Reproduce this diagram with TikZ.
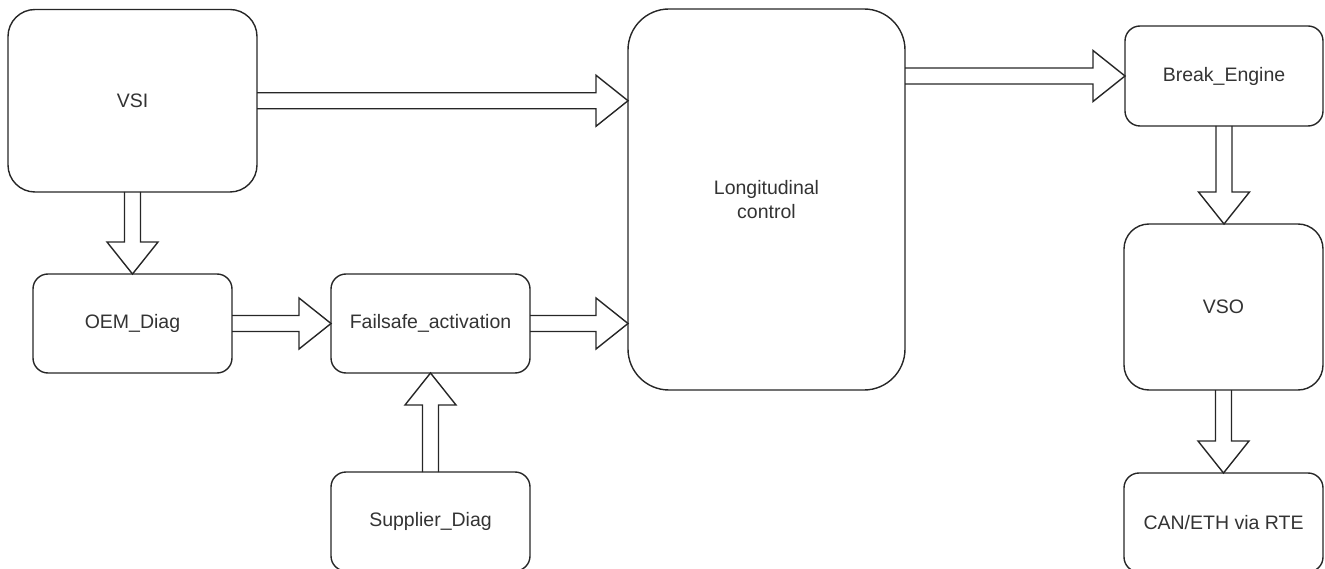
\documentclass[tikz,border=0pt]{standalone}
\usepackage{fontspec}
\setmainfont{Liberation Sans}
\usetikzlibrary{calc}
\tikzset{
  box/.style={draw=black!85, line width=1.4pt, rectangle, outer sep=0pt, inner sep=0pt,
    text=black!80, align=center, font=\fontsize{19.5}{24}\selectfont},
  flex/.style={draw=black!85, line width=1.4pt, line join=miter},
}
\newcommand\flexarrow[2]{%
  \coordinate (faA) at #1;
  \coordinate (faB) at #2;
  \coordinate (faH) at ($(faB)!32pt!(faA)$);
  \draw[flex] ($(faA)!8pt!90:(faB)$) -- ($(faH)!8pt!90:(faB)$) -- ($(faH)!25.5pt!90:(faB)$)
    -- (faB) -- ($(faH)!25.5pt!-90:(faB)$) -- ($(faH)!8pt!-90:(faB)$) -- ($(faA)!8pt!-90:(faB)$);
}
\begin{document}
\begin{tikzpicture}[x=1pt,y=-1pt]
\useasboundingbox (0,0) rectangle (1325,569);
\node[box, minimum width=249pt, minimum height=182.5pt, rounded corners=27pt] (vsi) at (132.5,100.75) {VSI};
\node[box, minimum width=199pt, minimum height=99pt, rounded corners=15pt] (oem) at (132.5,323.5) {OEM\_Diag};
\node[box, minimum width=199pt, minimum height=99pt, rounded corners=15pt] (fs) at (430.5,323.5) {Failsafe\_activation};
\node[box, minimum width=199pt, minimum height=99pt, rounded corners=15pt] (sup) at (430.5,521.5) {Supplier\_Diag};
\node[box, minimum width=277pt, minimum height=381pt, rounded corners=41pt] (long) at (766.5,199.5) {Longitudinal\\control};
\node[box, minimum width=198pt, minimum height=100pt, rounded corners=15pt] (brk) at (1224,76) {Break\_Engine};
\node[box, minimum width=199pt, minimum height=166pt, rounded corners=25pt] (vso) at (1223.5,307) {VSO};
\node[box, minimum width=199pt, minimum height=99pt, rounded corners=15pt] (can) at (1223.5,522.5) {CAN/ETH via RTE};

\flexarrow{(vsi.east)}{(vsi.east -| long.west)}
\flexarrow{(vsi.south)}{(oem.north)}
\flexarrow{(oem.east)}{(fs.west)}
\flexarrow{(fs.east)}{(fs.east -| long.west)}
\flexarrow{(sup.north)}{(fs.south)}
\flexarrow{(long.east |- brk.west)}{(brk.west)}
\flexarrow{(brk.south)}{(brk.south |- vso.north)}
\flexarrow{(vso.south)}{(vso.south |- can.north)}
\end{tikzpicture}
\end{document}
